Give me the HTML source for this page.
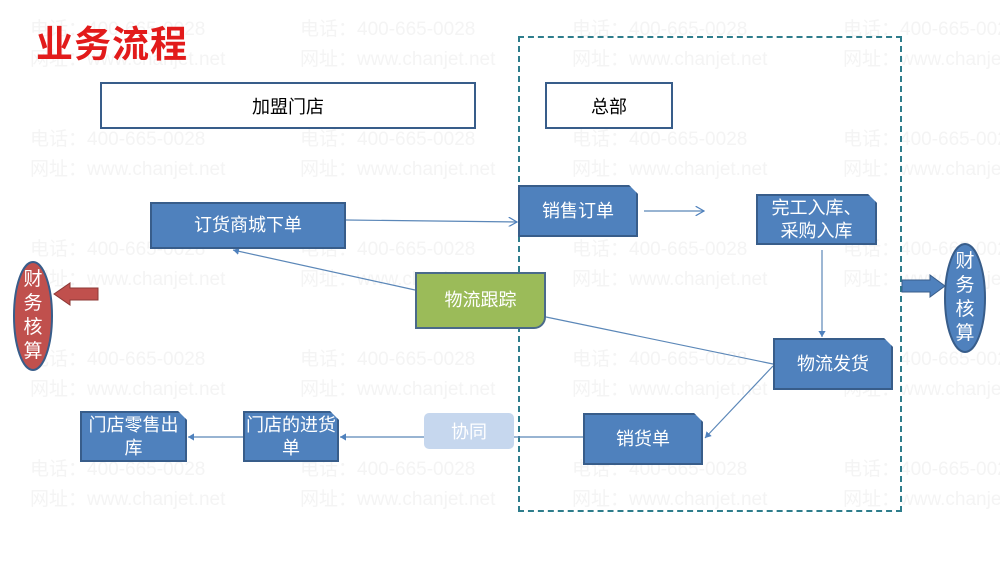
<!DOCTYPE html>
<html><head><meta charset="utf-8"><style>
body{margin:0;width:1000px;height:562px;background:#fff;position:relative;overflow:hidden;font-family:"Liberation Sans","Noto Sans CJK SC",sans-serif}
.wm{position:absolute;color:#f4f4f4;font-size:19px;line-height:30px;white-space:nowrap}
.b{position:absolute;background:#4f81bd;border:2px solid #385d8a;box-sizing:border-box;color:#fff;display:flex;align-items:center;justify-content:center;text-align:center;font-size:18px;line-height:23px}
.cut{clip-path:polygon(0 0,calc(100% - 9px) 0,100% 9px,100% 100%,0 100%)}
.w{position:absolute;background:#fff;border:2px solid #385d8a;box-sizing:border-box;display:flex;align-items:center;justify-content:center;font-size:18px}
</style></head><body>
<div class="wm" style="left:30px;top:15px">电话：400-665-0028<br>网址：www.chanjet.net</div>
<div class="wm" style="left:300px;top:15px">电话：400-665-0028<br>网址：www.chanjet.net</div>
<div class="wm" style="left:572px;top:15px">电话：400-665-0028<br>网址：www.chanjet.net</div>
<div class="wm" style="left:843px;top:15px">电话：400-665-0028<br>网址：www.chanjet.net</div>
<div class="wm" style="left:30px;top:125px">电话：400-665-0028<br>网址：www.chanjet.net</div>
<div class="wm" style="left:300px;top:125px">电话：400-665-0028<br>网址：www.chanjet.net</div>
<div class="wm" style="left:572px;top:125px">电话：400-665-0028<br>网址：www.chanjet.net</div>
<div class="wm" style="left:843px;top:125px">电话：400-665-0028<br>网址：www.chanjet.net</div>
<div class="wm" style="left:30px;top:235px">电话：400-665-0028<br>网址：www.chanjet.net</div>
<div class="wm" style="left:300px;top:235px">电话：400-665-0028<br>网址：www.chanjet.net</div>
<div class="wm" style="left:572px;top:235px">电话：400-665-0028<br>网址：www.chanjet.net</div>
<div class="wm" style="left:843px;top:235px">电话：400-665-0028<br>网址：www.chanjet.net</div>
<div class="wm" style="left:30px;top:345px">电话：400-665-0028<br>网址：www.chanjet.net</div>
<div class="wm" style="left:300px;top:345px">电话：400-665-0028<br>网址：www.chanjet.net</div>
<div class="wm" style="left:572px;top:345px">电话：400-665-0028<br>网址：www.chanjet.net</div>
<div class="wm" style="left:843px;top:345px">电话：400-665-0028<br>网址：www.chanjet.net</div>
<div class="wm" style="left:30px;top:455px">电话：400-665-0028<br>网址：www.chanjet.net</div>
<div class="wm" style="left:300px;top:455px">电话：400-665-0028<br>网址：www.chanjet.net</div>
<div class="wm" style="left:572px;top:455px">电话：400-665-0028<br>网址：www.chanjet.net</div>
<div class="wm" style="left:843px;top:455px">电话：400-665-0028<br>网址：www.chanjet.net</div>

<div style="position:absolute;left:36px;top:14px;color:#e21b1b;font-size:37px;font-weight:bold;letter-spacing:1px">业务流程</div>
<div style="position:absolute;left:518px;top:36px;width:384px;height:476px;border:2px dashed #2e7d8c;box-sizing:border-box"></div>
<div class="w" style="left:100px;top:82px;width:376px;height:47px">加盟门店</div>
<div class="w" style="left:545px;top:82px;width:128px;height:47px">总部</div>

<svg style="position:absolute;left:0;top:0" width="1000" height="562">
<defs><marker id="a" markerWidth="8" markerHeight="8" refX="7" refY="4" orient="auto"><path d="M0,0 L7,4 L0,8" fill="none" stroke="#4f81bd" stroke-width="1"/></marker>
<marker id="f" markerWidth="6" markerHeight="6" refX="5" refY="3" orient="auto"><path d="M0,0 L5,3 L0,6z" fill="#4f81bd"/></marker></defs>
<g stroke="#5b87b8" stroke-width="1.2" fill="none">
<line x1="346" y1="220" x2="517" y2="222" marker-end="url(#a)"/>
<line x1="644" y1="211" x2="704" y2="211" marker-end="url(#a)"/>
<line x1="822" y1="250" x2="822" y2="337" marker-end="url(#f)"/>
<line x1="546" y1="317" x2="773" y2="364"/>
<line x1="773" y1="366" x2="705" y2="438" marker-end="url(#f)"/>
<line x1="583" y1="437" x2="340" y2="437" marker-end="url(#f)"/>
<line x1="243" y1="437" x2="188" y2="437" marker-end="url(#f)"/>
<line x1="415" y1="290" x2="233" y2="250" marker-end="url(#f)"/>
</g>
<polygon points="98,288 70,288 70,283 54,294 70,305 70,300 98,300" fill="#c0504d" stroke="#8c3836" stroke-width="1"/>
<polygon points="902,280 930,280 930,275 945,286 930,297 930,292 902,292" fill="#4f81bd" stroke="#385d8a" stroke-width="1"/>
<ellipse cx="33" cy="316" rx="19" ry="54" fill="#c0504d" stroke="#385d8a" stroke-width="2"/>
<ellipse cx="965" cy="298" rx="20" ry="54" fill="#4f81bd" stroke="#385d8a" stroke-width="2"/>
</svg>
<div style="position:absolute;left:22px;top:268px;width:22px;color:#fff;font-size:19px;line-height:24px;text-align:center">财务核算</div>
<div style="position:absolute;left:954px;top:250px;width:22px;color:#fff;font-size:19px;line-height:24px;text-align:center">财务核算</div>

<div class="b" style="left:150px;top:202px;width:196px;height:47px">订货商城下单</div>
<div class="b cut" style="left:518px;top:185px;width:120px;height:52px">销售订单</div>
<div class="b cut" style="left:756px;top:194px;width:121px;height:51px">完工入库、<br>采购入库</div>
<div class="b" style="left:415px;top:272px;width:131px;height:57px;background:#9bbb59;border-color:#4a6a8a;border-bottom-right-radius:12px;align-items:flex-start;padding-top:15px">物流跟踪</div>
<div class="b cut" style="left:773px;top:338px;width:120px;height:52px">物流发货</div>
<div class="b cut" style="left:583px;top:413px;width:120px;height:52px">销货单</div>
<div class="b cut" style="left:243px;top:411px;width:96px;height:51px">门店的进货<br>单</div>
<div class="b cut" style="left:80px;top:411px;width:107px;height:51px">门店零售出<br>库</div>
<div style="position:absolute;left:424px;top:413px;width:90px;height:36px;background:#c6d7ee;border-radius:5px;color:#fff;font-size:18px;display:flex;align-items:center;justify-content:center">协同</div>
</body></html>
